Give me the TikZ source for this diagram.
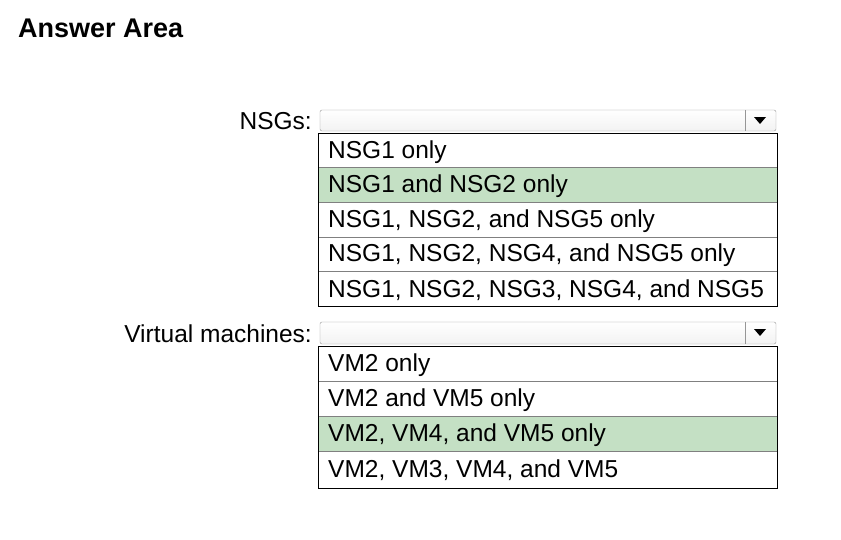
\documentclass[tikz,border=0pt]{standalone}
\usepackage{fontspec}
\setmainfont{Liberation Sans}
\definecolor{pick}{RGB}{196,224,196}
\definecolor{combo}{RGB}{150,150,150}
\tikzset{
    itemtext/.style={anchor=west, inner sep=0pt, font=\fontsize{24.5}{28}\selectfont},
    labeltext/.style={anchor=east, inner sep=0pt, font=\fontsize{24.5}{28}\selectfont},
    combobox/.style={draw=combo, rounded corners=2pt, top color=white, bottom color=gray!10},
}
\begin{document}
\begin{tikzpicture}[x=1pt, y=-1pt]
    \useasboundingbox (0,0) rectangle (841,539);
    \node[anchor=west, inner sep=0pt, font=\bfseries\fontsize{27}{30}\selectfont] (title) at (18,28) {Answer Area};

    % NSGs
    \node[labeltext] (nsglabel) at (312,121) {NSGs:};
    \draw[combobox] (320,110) rectangle (776,131);
    \draw[combo] (745,110) -- (745,131);
    \fill (754,117) -- (766,117) -- (760,124) -- cycle;
    \fill[pick] (318,168) rectangle (777,202);
    \foreach \i in {1,...,4}
        \draw[gray] (318, 133 + \i * 34.6) -- (777, 133 + \i * 34.6);
    \draw[thick] (318,133) rectangle (777,306);
    \node[itemtext] (nsg1) at (328,152) {NSG1 only};
    \node[itemtext] (nsg2) at (328,186) {NSG1 and NSG2 only};
    \node[itemtext] (nsg3) at (328,221) {NSG1, NSG2, and NSG5 only};
    \node[itemtext] (nsg4) at (328,255) {NSG1, NSG2, NSG4, and NSG5 only};
    \node[itemtext] (nsg5) at (328,290) {NSG1, NSG2, NSG3, NSG4, and NSG5};

    % Virtual machines
    \node[labeltext] (vmlabel) at (312,334) {Virtual machines:};
    \draw[combobox] (320,322) rectangle (776,344);
    \draw[combo] (745,322) -- (745,344);
    \fill (754,329) -- (766,329) -- (760,336) -- cycle;
    \fill[pick] (318,416) rectangle (777,451);
    \foreach \i in {1,...,3}
        \draw[gray] (318, 346 + \i * 35.2) -- (777, 346 + \i * 35.2);
    \draw[thick] (318,346) rectangle (777,488);
    \node[itemtext] (vm1) at (328,365) {VM2 only};
    \node[itemtext] (vm2) at (328,400) {VM2 and VM5 only};
    \node[itemtext] (vm3) at (328,435) {VM2, VM4, and VM5 only};
    \node[itemtext] (vm4) at (328,470) {VM2, VM3, VM4, and VM5};
\end{tikzpicture}
\end{document}
